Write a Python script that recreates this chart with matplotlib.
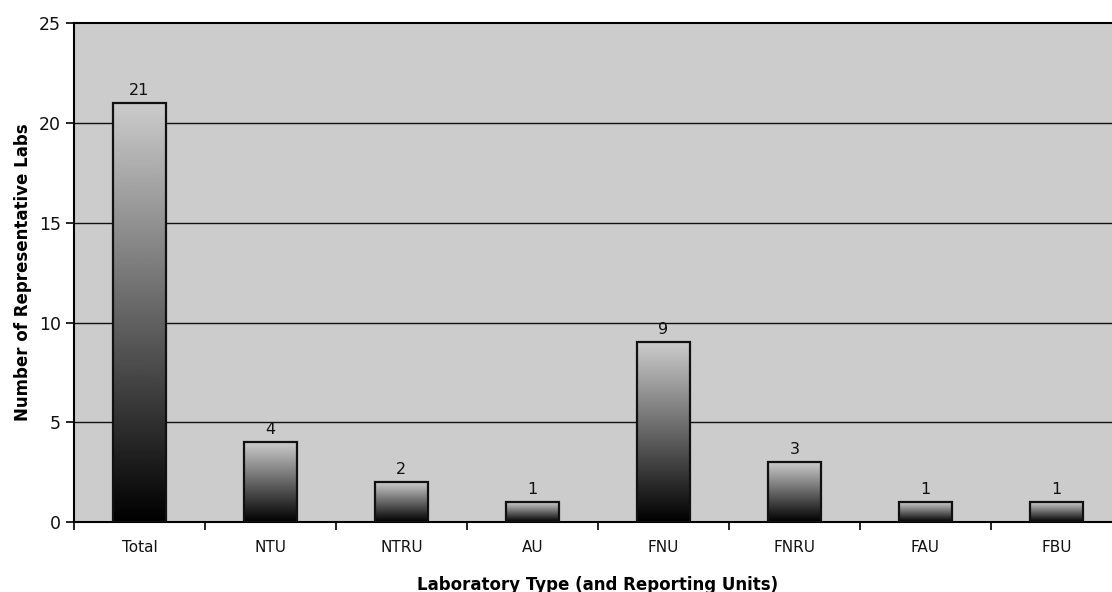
import numpy as np
import matplotlib.pyplot as plt
from matplotlib.patches import Rectangle

# lab counts per type
lab_types = ['Total', 'NTU', 'NTRU', 'AU', 'FNU', 'FNRU', 'FAU', 'FBU']
n_labs = [21, 4, 2, 1, 9, 3, 1, 1]

plt.rcParams['font.family'] = ['DejaVu Sans']

fig = plt.figure(figsize=(11.12, 5.92), dpi=100)
# plot area runs a little past the right edge of the figure
ax = fig.add_axes([0.0665, 0.118, 0.9424, 0.843])
ax.set_facecolor('#cccccc')

# horizontal grid lines
for yv in [5, 10, 15, 20]:
    ax.axhline(yv, color='#111111', lw=1.0, zorder=1)

# vertical gradient (light on top, black at bottom)
grad = np.linspace(0.80, 0.0, 256).reshape(-1, 1)
bw = 0.41
for i, v in enumerate(n_labs):
    x0 = i + 0.5 - bw / 2
    ax.imshow(grad, extent=[x0, x0 + bw, 0, v], aspect='auto', cmap='gray',
              vmin=0, vmax=1, origin='upper', zorder=2, interpolation='bilinear')
    ax.add_patch(Rectangle((x0, 0), bw, v, fill=False, edgecolor='#111111',
                           lw=1.6, zorder=3))
    ax.text(i + 0.5, v + 0.25, str(v), ha='center', va='bottom', fontsize=11.5,
            color='#111111')

ax.set_xlim(0, len(lab_types))
ax.set_ylim(0, 25)

ax.set_xticks(np.arange(len(lab_types)) + 0.5)
ax.set_xticklabels(lab_types, fontsize=11, color='#111111')
ax.set_xticks(np.arange(0, len(lab_types) + 1), minor=True)
ax.tick_params(axis='x', which='major', length=0, pad=13)
ax.tick_params(axis='x', which='minor', direction='out', length=6, width=1.2)
ax.set_yticks([0, 5, 10, 15, 20, 25])
ax.tick_params(axis='y', direction='out', length=6, width=1.2, labelsize=12.5,
               labelcolor='#111111')

for s in ['left', 'bottom', 'top']:
    ax.spines[s].set_linewidth(1.5)
ax.spines['right'].set_visible(False)

ax.set_xlabel('Laboratory Type (and Reporting Units)', fontsize=12,
              fontweight='bold', labelpad=15)
ax.set_ylabel('Number of Representative Labs', fontsize=12,
              fontweight='bold', labelpad=5)

fig.savefig('out.png', dpi=100)
